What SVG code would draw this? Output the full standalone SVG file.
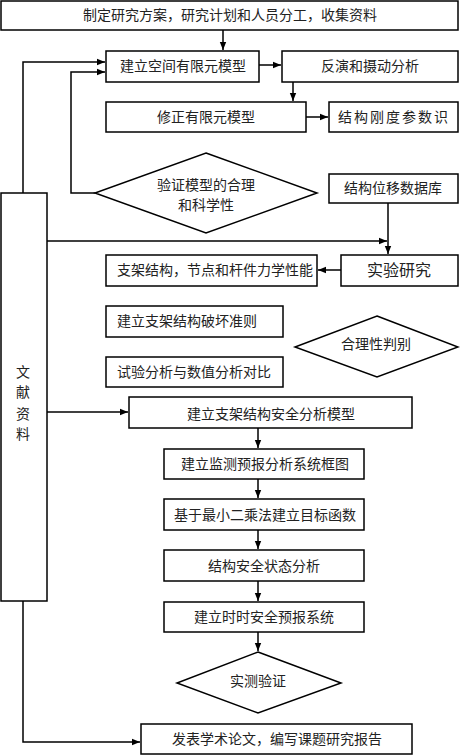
<svg xmlns="http://www.w3.org/2000/svg" width="460" height="756" viewBox="0 0 460 756">
<style>
.b{fill:#fff;stroke:#000;stroke-width:1.5}
.t{font-family:"Liberation Serif","Noto Sans CJK SC",serif;font-size:14px;fill:#222;text-anchor:middle;dominant-baseline:central}
.l{text-anchor:start}
.c{fill:none;stroke:#000;stroke-width:1.5}
</style>
<defs>
<marker id="a" viewBox="0 0 8 8" refX="8" refY="4" markerWidth="8" markerHeight="8" markerUnits="userSpaceOnUse" orient="auto"><path d="M0,0.8 L8,4 L0,7.2z" fill="#000"/></marker>
</defs>
<rect width="460" height="756" fill="#fff"/>
<g id="connectors">
<path class="c" d="M223,30 V50" marker-end="url(#a)"/>
<path class="c" d="M259,65 H281" marker-end="url(#a)"/>
<path class="c" d="M293,82 V101" marker-end="url(#a)"/>
<path class="c" d="M306,117 H328" marker-end="url(#a)"/>
<path class="c" d="M23,193 V62 H105" marker-end="url(#a)"/>
<path class="c" d="M95,193 H71 V72 H105" marker-end="url(#a)"/>
<path class="c" d="M47,241 H387" marker-end="url(#a)"/>
<path class="c" d="M388,203 V254" marker-end="url(#a)"/>
<path class="c" d="M341,270 H318" marker-end="url(#a)"/>
<path class="c" d="M47,412 H128" marker-end="url(#a)"/>
<path class="c" d="M258,428 V448" marker-end="url(#a)"/>
<path class="c" d="M258,479 V498" marker-end="url(#a)"/>
<path class="c" d="M258,530 V549" marker-end="url(#a)"/>
<path class="c" d="M258,581 V601" marker-end="url(#a)"/>
<path class="c" d="M258,632 V651" marker-end="url(#a)"/>
<path class="c" d="M23,601 V742 H140" marker-end="url(#a)"/>
</g>
<g id="n1"><rect class="b" x="1" y="1" width="457" height="29"/><text class="t" x="230" y="15">制定研究方案，研究计划和人员分工，收集资料</text></g>
<g id="n2"><rect class="b" x="106" y="51" width="153" height="31"/><text class="t" x="183" y="66">建立空间有限元模型</text></g>
<g id="n3"><rect class="b" x="282" y="51" width="176" height="31"/><text class="t" x="370" y="66">反演和摄动分析</text></g>
<g id="n4"><rect class="b" x="106" y="102" width="200" height="30"/><text class="t" x="206" y="117">修正有限元模型</text></g>
<g id="n5"><rect class="b" x="329" y="102" width="129" height="30"/><text class="t" x="394" y="117" style="letter-spacing:2px">结构刚度参数识</text></g>
<g id="n6"><polygon class="b" points="206,153 317,193 206,233 95,193"/><text class="t" x="206" y="185">验证模型的合理</text><text class="t" x="206" y="205">和科学性</text></g>
<g id="n7"><rect class="b" x="329" y="174" width="129" height="29"/><text class="t" x="393" y="188">结构位移数据库</text></g>
<g id="n8"><rect class="b" x="1" y="193" width="46" height="408"/><text class="t" x="23" y="372">文</text><text class="t" x="23" y="392">献</text><text class="t" x="23" y="414">资</text><text class="t" x="23" y="434">料</text></g>
<g id="n9"><rect class="b" x="341" y="255" width="117" height="31"/><text class="t" x="399" y="270" style="font-size:16px">实验研究</text></g>
<g id="n10"><rect class="b" x="106" y="255" width="211" height="31"/><text class="t l" x="117" y="270">支架结构，节点和杆件力学性能</text></g>
<g id="n11"><rect class="b" x="106" y="306" width="177" height="31"/><text class="t l" x="117" y="321">建立支架结构破坏准则</text></g>
<g id="n12"><polygon class="b" points="377,316 458,347 377,377 295,347"/><text class="t" x="376" y="344">合理性判别</text></g>
<g id="n13"><rect class="b" x="106" y="357" width="177" height="30"/><text class="t l" x="117" y="372">试验分析与数值分析对比</text></g>
<g id="n14"><rect class="b" x="129" y="397" width="283" height="31"/><text class="t" x="271" y="414">建立支架结构安全分析模型</text></g>
<g id="n15"><rect class="b" x="164" y="449" width="200" height="30"/><text class="t" x="265" y="464">建立监测预报分析系统框图</text></g>
<g id="n16"><rect class="b" x="164" y="499" width="200" height="31"/><text class="t" x="265" y="515">基于最小二乘法建立目标函数</text></g>
<g id="n17"><rect class="b" x="164" y="550" width="200" height="31"/><text class="t" x="264" y="566">结构安全状态分析</text></g>
<g id="n18"><rect class="b" x="164" y="602" width="200" height="30"/><text class="t" x="264" y="617">建立时时安全预报系统</text></g>
<g id="n19"><polygon class="b" points="258,652 341,683 258,713 177,683"/><text class="t" x="258" y="681">实测验证</text></g>
<g id="n20"><rect class="b" x="141" y="724" width="271" height="30"/><text class="t" x="277" y="739">发表学术论文，编写课题研究报告</text></g>
</svg>
